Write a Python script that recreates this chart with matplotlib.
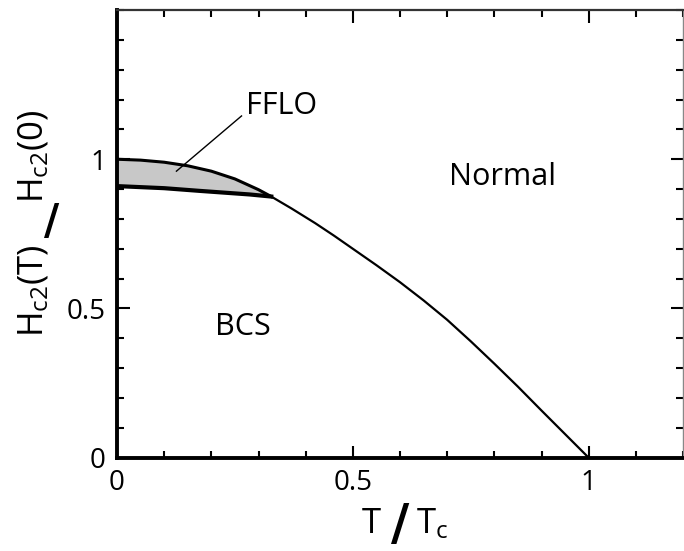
import numpy as np
import matplotlib
matplotlib.use("Agg")
import matplotlib.pyplot as plt
from matplotlib.ticker import MultipleLocator

plt.rcParams['font.family'] = ['Open Sans', 'DejaVu Sans']
plt.rcParams['mathtext.fontset'] = 'custom'
plt.rcParams['mathtext.rm'] = 'Open Sans'
plt.rcParams['mathtext.it'] = 'Open Sans'

# ---- data ----
t_main = [0.327, 0.37, 0.42, 0.46, 0.50, 0.55, 0.60, 0.65, 0.70, 0.75, 0.80, 0.85, 0.90, 0.95, 1.0]
h_main = [0.875, 0.835, 0.786, 0.744, 0.700, 0.645, 0.588, 0.527, 0.462, 0.390, 0.315, 0.238, 0.158, 0.079, 0.0]

t_fflo_upper = [0.0, 0.05, 0.10, 0.15, 0.20, 0.25, 0.30, 0.327]
h_fflo_upper = [1.0, 0.997, 0.99, 0.978, 0.96, 0.934, 0.898, 0.875]

t_bcs_lower = [0.0, 0.10, 0.175, 0.281, 0.327]
h_bcs_lower = [0.910, 0.903, 0.894, 0.882, 0.875]

x_ticks = [0, 0.5, 1]
x_ticklabels = ['0', '0.5', '1']
y_ticks = [0, 0.5, 1]
y_ticklabels = ['0', '0.5', '1']

fig = plt.figure(figsize=(6.84, 5.51), dpi=100)
ax = fig.add_axes([117/684, 1-457.7/551, (683-117)/684, (457.7-10)/551])

# shaded FFLO region
poly_t = list(t_fflo_upper) + list(t_bcs_lower[::-1])
poly_h = list(h_fflo_upper) + list(h_bcs_lower[::-1])
ax.fill(poly_t, poly_h, color='#c8c8c8', lw=0, zorder=1)

ax.plot(t_main, h_main, color='black', lw=1.6, zorder=3, solid_joinstyle='round')
ax.plot(t_fflo_upper, h_fflo_upper, color='black', lw=2.2, zorder=3, solid_joinstyle='round')
ax.plot(t_bcs_lower, h_bcs_lower, color='black', lw=3.0, zorder=3, solid_joinstyle='round')

# FFLO leader line and labels
ax.plot([0.126, 0.264], [0.96, 1.145], color='black', lw=1.0, zorder=4)
ax.text(0.274, 1.151, 'FFLO', fontsize=22, ha='left', va='baseline')
ax.text(0.704, 0.915, 'Normal', fontsize=22, ha='left', va='baseline')
ax.text(0.207, 0.412, 'BCS', fontsize=22, ha='left', va='baseline')

ax.set_xlim(0, 1.2)
ax.set_ylim(0, 1.5)
ax.set_xticks(x_ticks)
ax.set_xticklabels(x_ticklabels)
ax.set_yticks(y_ticks)
ax.set_yticklabels(y_ticklabels)
ax.xaxis.set_minor_locator(MultipleLocator(0.1))
ax.yaxis.set_minor_locator(MultipleLocator(0.1))
ax.tick_params(which='both', direction='in', top=True, right=True, width=1.5, color='black')
ax.tick_params(which='major', length=9, labelsize=20, pad=8)
ax.tick_params(which='minor', length=5)

ax.spines['left'].set_linewidth(2.8)
ax.spines['bottom'].set_linewidth(2.8)
ax.spines['top'].set_linewidth(1.6)
ax.spines['top'].set_color('#333333')
ax.spines['right'].set_linewidth(1.0)
ax.spines['right'].set_color('#888888')

# axis labels built from pieces (big slash)
W, H = 684, 551
fig.text(362/W, 1-533/H, 'T', fontsize=25, ha='left', va='baseline')
fig.text(400.5/W, 1-525.5/H, '/', fontsize=36, fontweight='bold', family='DejaVu Sans',
         ha='center', va='center')
fig.text(416/W, 1-533/H, r'T$_\mathregular{c}$', fontsize=25, ha='left', va='baseline')

fig.text(43/W, 1-337/H, r'H$_\mathregular{c2}$(T)', fontsize=25, rotation=90,
         ha='left', va='baseline', rotation_mode='anchor')
fig.text(51.5/W, 1-222/H, '/', fontsize=30, fontweight='bold', family='DejaVu Sans',
         ha='center', va='center')
fig.text(43/W, 1-203/H, r'H$_\mathregular{c2}$(0)', fontsize=25, rotation=90,
         ha='left', va='baseline', rotation_mode='anchor')

fig.savefig('out.png', dpi=100)
